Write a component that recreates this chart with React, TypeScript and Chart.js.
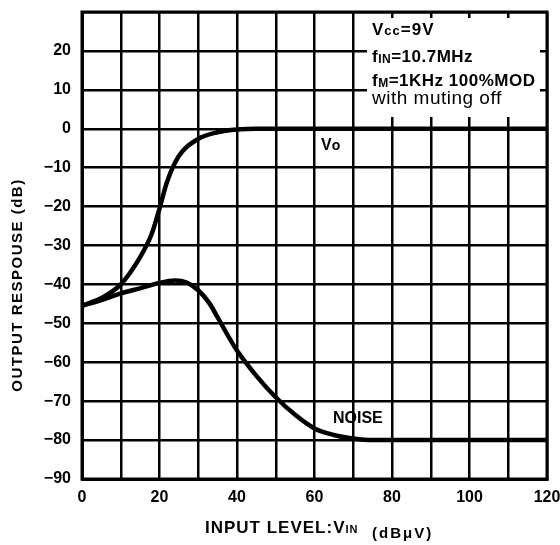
import React, { useEffect, useRef } from "react";
import { Chart, registerables } from "chart.js";

Chart.register(...registerables);

const xVo = [0, 5, 10, 15, 18, 20, 22, 25, 30, 35, 40, 45, 60, 80, 100, 120];
const yVo = [-45.5, -43.5, -40, -33, -27, -20.5, -13.5, -7, -2.6, -0.9, -0.2, 0, 0, 0, 0, 0];
const xNoise = [0, 5, 10, 15, 20, 24, 27, 30, 33, 35, 40, 45, 50, 55, 60, 65, 70, 75, 80, 100, 120];
const yNoise = [-45.5, -44, -42.3, -41, -39.6, -39, -39.5, -41.5, -45, -48.5, -57, -63.5, -69, -73.5, -77, -78.7, -79.6, -80, -80, -80, -80];
const xTickLabels = ["0", "20", "40", "60", "80", "100", "120"];
const yTickLabels = ["−90", "−80", "−70", "−60", "−50", "−40", "−30", "−20", "−10", "0", "10", "20"];

const FONT = "'Liberation Sans', Arial, sans-serif";

export default function App() {
  const ref = useRef<HTMLCanvasElement | null>(null);
  useEffect(() => {
    if (!ref.current) return;
    const runs = (ctx: any, parts: any[], x: number, y: number, spacing: number) => {
      let cx = x;
      ctx.letterSpacing = `${spacing}px`;
      for (const [t, font, dy] of parts) {
        ctx.font = font;
        ctx.fillText(t, cx, y + dy);
        cx += ctx.measureText(t).width;
      }
    };
    const overlay = {
      id: "overlay",
      beforeDatasetsDraw(chart: any) {
        const ctx = chart.ctx;
        ctx.save();
        ctx.fillStyle = "#fff";
        ctx.fillRect(367, 18, 173, 99);
        ctx.restore();
      },
      afterDraw(chart: any) {
        const ctx = chart.ctx;
        ctx.save();
        ctx.fillStyle = "#000";
        ctx.textBaseline = "alphabetic";
        const b17 = `bold 17px ${FONT}`;
        const b16 = `bold 16px ${FONT}`;
        const b13 = `bold 13px ${FONT}`;
        const b12 = `bold 12px ${FONT}`;
        runs(ctx, [["V", b17, 0], ["cc", b13, 0], ["=9V", b17, 0]], 372, 35, 1);
        runs(ctx, [["f", b17, 0], ["IN", b12, 1], ["=10.7MHz", b17, 0]], 372, 62, 0.5);
        runs(ctx, [["f", b17, 0], ["M", b12, 1], ["=1KHz 100%MOD", b17, 0]], 372, 86, 0.5);
        runs(ctx, [["with muting off", `19px ${FONT}`, 0]], 372, 104, 0.5);
        // curve labels
        runs(ctx, [["V", b16, 0], ["o", `bold 14px ${FONT}`, 0]], 321, 150, 0);
        runs(ctx, [["NOISE", b16, 0]], 333, 423, 0);
        // x title
        runs(ctx, [["INPUT LEVEL:V", `bold 17px ${FONT}`, 0], ["IN", `bold 11px ${FONT}`, 0]], 205, 533, 1);
        runs(ctx, [["(dBμV)", `bold 15px ${FONT}`, 0]], 372, 538, 2);
        // y title
        ctx.translate(22, 285);
        ctx.rotate(-Math.PI / 2);
        ctx.textAlign = "center";
        ctx.letterSpacing = "1.5px";
        ctx.font = `bold 15px ${FONT}`;
        ctx.fillText("OUTPUT RESPOUSE (dB)", 0, 0);
        ctx.restore();
      },
    };
    const chart = new Chart(ref.current, {
      type: "scatter",
      data: {
        datasets: [
          {
            label: "Vo",
            data: xVo.map((x, i) => ({ x, y: yVo[i] })),
            showLine: true,
            borderColor: "#000",
            borderWidth: 4.5,
            pointRadius: 0,
            cubicInterpolationMode: "monotone",
          },
          {
            label: "NOISE",
            data: xNoise.map((x, i) => ({ x, y: yNoise[i] })),
            showLine: true,
            borderColor: "#000",
            borderWidth: 4.5,
            pointRadius: 0,
            cubicInterpolationMode: "monotone",
          },
        ],
      },
      options: {
        animation: false,
        responsive: false,
        layout: { padding: { left: 0, right: 13, top: 12, bottom: 0 } },
        plugins: { legend: { display: false }, tooltip: { enabled: false } },
        scales: {
          x: {
            type: "linear",
            min: 0,
            max: 120,
            afterFit: (s: any) => {
              s.height = 66;
              s.paddingLeft = 0;
              s.paddingRight = 0;
            },
            ticks: {
              stepSize: 10,
              autoSkip: false,
              maxRotation: 0,
              padding: 9,
              color: "#000",
              font: { family: FONT, size: 16, weight: "bold" },
              callback: (v: any) => (Number(v) % 20 === 0 ? xTickLabels[Number(v) / 20] : ""),
            },
            grid: { color: "#000", lineWidth: 2.5, drawTicks: false },
            border: { color: "#000", width: 3 },
          },
          y: {
            type: "linear",
            min: -90,
            max: 30,
            afterFit: (s: any) => {
              s.width = 82;
              s.paddingTop = 0;
              s.paddingBottom = 0;
            },
            ticks: {
              stepSize: 10,
              autoSkip: false,
              padding: 11,
              color: "#000",
              font: { family: FONT, size: 16, weight: "bold" },
              callback: (v: any) => {
                const i = (Number(v) + 90) / 10;
                return i >= 0 && i < yTickLabels.length ? yTickLabels[i] : "";
              },
            },
            grid: { color: "#000", lineWidth: 2.5, drawTicks: false },
            border: { color: "#000", width: 3 },
          },
        },
      },
      plugins: [
        overlay,
        {
          id: "frame",
          afterDatasetsDraw(chart: any) {
            const { left, right, top, bottom } = chart.chartArea;
            const ctx = chart.ctx;
            ctx.save();
            ctx.strokeStyle = "#000";
            ctx.lineWidth = 3;
            ctx.strokeRect(left, top, right - left, bottom - top);
            ctx.restore();
          },
        },
      ],
    } as any);
    return () => chart.destroy();
  }, []);
  return (
    <div style={{ position: "fixed", left: 0, top: 0, width: 560, height: 545, background: "#fff" }}>
      <canvas ref={ref} width={560} height={545} style={{ width: 560, height: 545 }} />
    </div>
  );
}
